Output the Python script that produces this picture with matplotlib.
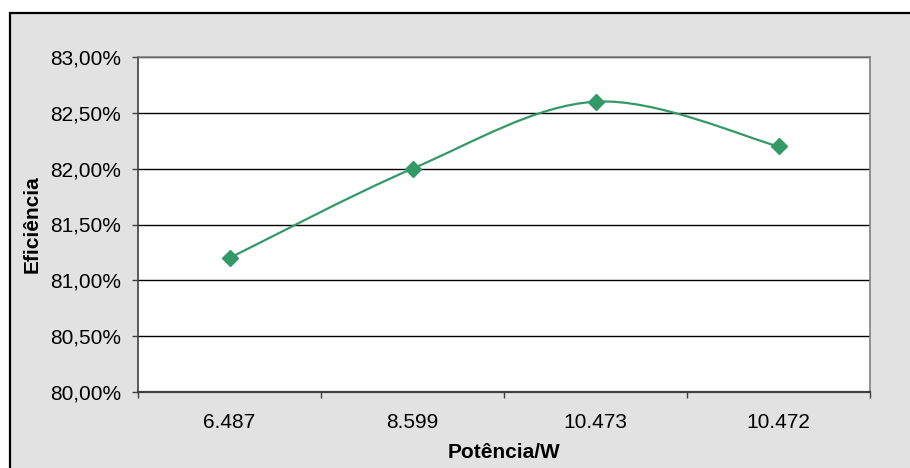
import matplotlib
matplotlib.use("Agg")
import matplotlib.pyplot as plt
from matplotlib.patches import Rectangle, PathPatch
from matplotlib.path import Path
from matplotlib.ticker import FuncFormatter, MultipleLocator

# data
categories = ["6.487", "8.599", "10.473", "10.472"]
efficiency = [81.2, 82.0, 82.6, 82.2]   # %

GREEN = "#339966"
FS = 15

plt.rcParams["font.family"] = ["Liberation Sans", "DejaVu Sans"]

fig = plt.figure(figsize=(9.1, 4.68), dpi=100, facecolor="white")

# chart area (grey, black frame running off the right/bottom edge)
fig.add_artist(Rectangle((10 / 910, -0.05), 1.05, 1.05 - 13 / 468,
                         transform=fig.transFigure, facecolor="#e2e2e2",
                         edgecolor="black", lw=1.6, zorder=0))

ax = fig.add_axes([138 / 910, 76 / 468, 732 / 910, 335 / 468])
ax.set_facecolor("white")

xs = list(range(len(categories)))

# Excel style smoothed line: cubic bezier segments, control points from neighbours
verts = [(xs[0], efficiency[0])]
codes = [Path.MOVETO]
n = len(xs)
for i in range(n - 1):
    p0 = (xs[max(i - 1, 0)], efficiency[max(i - 1, 0)])
    p1 = (xs[i], efficiency[i])
    p2 = (xs[i + 1], efficiency[i + 1])
    p3 = (xs[min(i + 2, n - 1)], efficiency[min(i + 2, n - 1)])
    c1 = (p1[0] + (p2[0] - p0[0]) / 6, p1[1] + (p2[1] - p0[1]) / 6)
    c2 = (p2[0] - (p3[0] - p1[0]) / 6, p2[1] - (p3[1] - p1[1]) / 6)
    verts += [c1, c2, p2]
    codes += [Path.CURVE4] * 3
ax.add_patch(PathPatch(Path(verts, codes), facecolor="none",
                       edgecolor=GREEN, lw=1.6, zorder=3))
ax.plot(xs, efficiency, linestyle="none", marker="D", ms=8.5,
        color=GREEN, zorder=4)

ax.set_xlim(-0.5, n - 0.5)
ax.set_ylim(80.0, 83.0)
ax.yaxis.set_major_locator(MultipleLocator(0.5))
ax.yaxis.set_major_formatter(FuncFormatter(
    lambda v, _: f"{v:.2f}".replace(".", ",") + "%"))
ax.grid(axis="y", color="black", lw=1.0)
ax.set_axisbelow(True)

ax.set_xticks([x + 0.5 for x in [-1] + xs])
ax.set_xticklabels([])
ax.set_xticks(xs, minor=True)
ax.set_xticklabels(categories, minor=True)
ax.tick_params(axis="x", which="major", length=4.3, color="#404040", width=1)
ax.tick_params(axis="x", which="minor", length=0, pad=15, labelsize=FS)
ax.tick_params(axis="y", length=4.3, color="#404040", width=1, labelsize=FS, pad=8)

for side in ["top", "right"]:
    ax.spines[side].set_color("#808080")
    ax.spines[side].set_linewidth(1.2)
ax.spines["left"].set_color("#404040")
ax.spines["bottom"].set_color("#404040")
ax.spines["left"].set_linewidth(1.2)
ax.spines["bottom"].set_linewidth(1.6)

ax.set_xlabel("Potência/W", fontsize=FS, fontweight="bold", labelpad=8)
ax.set_ylabel("Eficiência", fontsize=FS, fontweight="bold", labelpad=6)

fig.savefig("out.png", dpi=100, facecolor=fig.get_facecolor())
